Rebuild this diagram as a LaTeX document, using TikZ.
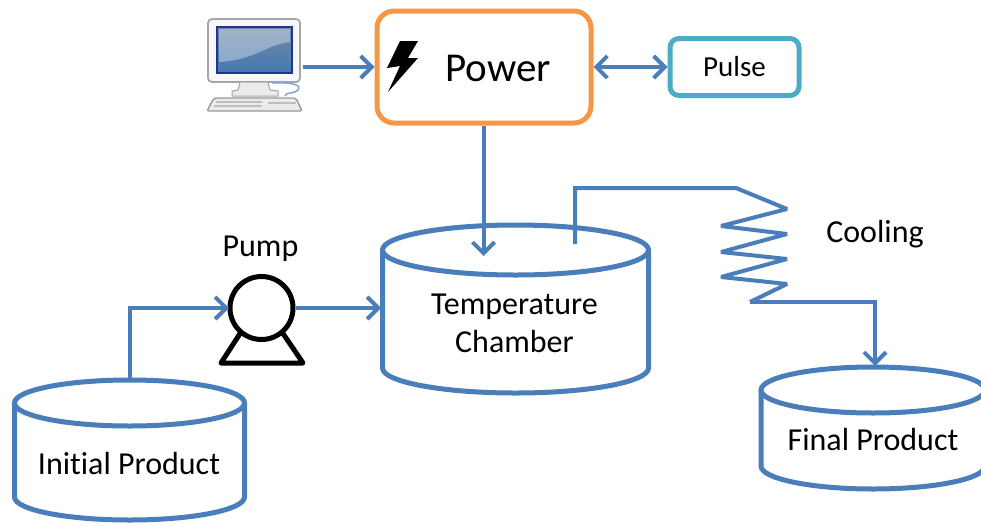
\documentclass[tikz,border=0pt]{standalone}
\usepackage{fontspec}
\setmainfont[Ligatures=NoCommon]{Carlito}
\usetikzlibrary{arrows.meta}
\definecolor{flow}{HTML}{4A7EBB}
\definecolor{orangeb}{HTML}{F79646}
\definecolor{tealb}{HTML}{4BACC6}
\tikzset{
  x=1pt,y=-1pt,
  flowline/.style={draw=flow,line width=4pt,line join=miter},
  arrowed/.style={flowline,-{Straight Barb[length=11pt,width=22pt,line width=4pt]}},
  both/.style={flowline,{Straight Barb[length=11pt,width=22pt,line width=4pt]}-{Straight Barb[length=11pt,width=22pt,line width=4pt]}},
  cyl/.style={draw=flow,line width=5pt,fill=white},
  lab/.style={text=black,inner sep=0pt,font=\fontsize{32}{38}\selectfont,align=center},
  pumpline/.style={draw=black,line width=5pt,line join=round}
}
\newcommand{\cylinder}[5]{% cx, rx, ytop, ybot, ry
  \path[cyl] (#1-#2,#3) -- (#1-#2,#4) arc[start angle=180,end angle=0,x radius=#2,y radius=#5] -- (#1+#2,#3);
  \path[cyl] (#1,#3) ellipse[x radius=#2,y radius=#5];
}
\begin{document}
\begin{tikzpicture}
\useasboundingbox (0,0) rectangle (981,525);
% cylinders
\cylinder{515.5}{133}{250}{368}{25}
\cylinder{129.5}{115}{403}{497}{23}
\cylinder{873}{112}{390}{466}{23}
% power
\node[draw=orangeb,line width=5pt,rounded corners=17pt,minimum width=214pt,minimum height=112pt,inner sep=0pt] (power) at (484,67) {};
\node[lab,font=\fontsize{41}{46}\selectfont] (powertext) at (498,68) {Power};
\node[draw=tealb,line width=5pt,rounded corners=9pt,minimum width=129pt,minimum height=57pt,inner sep=0pt,font=\fontsize{29}{34}\selectfont] (pulse) at (734.5,67) {Pulse};
% lightning
\fill[black] (400,41) -- (418,41) -- (408,58) -- (418,58) -- (388,92) -- (400,66) -- (387,68) -- cycle;
% computer
\node[minimum width=96pt,minimum height=92pt,inner sep=0pt] (pc) at (255,65) {};
\fill[black!3,draw=black!35,line width=1.8pt,rounded corners=4pt] (208,19) rectangle (300,82);
\shade[top color=flow!70!black!70,bottom color=flow!95!black,draw=flow!60!blue!70!black,line width=1.5pt] (217,27) rectangle (292,73);
\fill[white,opacity=.35] (219,29) -- (290,29) -- (290,42) .. controls (265,45) and (255,60) .. (219,62) -- cycle;
\fill[black!8,draw=black!35,line width=1pt] (240,82) -- (268,82) -- (270,90) -- (278,91) -- (278,96) -- (232,96) -- (232,91) -- (238,90) -- cycle;
\draw[flow!70,line width=1.5pt] (272,83) .. controls (292,82) and (302,85) .. (298,90) .. controls (295,94) and (285,92) .. (285,96);
\fill[black!8,draw=black!40,line width=1.4pt,rounded corners=2pt] (214,98) -- (296,98) -- (302,111) -- (207,111) -- cycle;
\draw[black!25,line width=1.4pt] (216,102) -- (262,102) (214,106) -- (262,106);
\draw[black!25,line width=1.4pt] (268,103) -- (296,103);
% pump
\node[circle,draw=black,line width=5pt,minimum size=63pt,inner sep=0pt] (pump) at (261.5,308) {};
\coordinate (pumpbl) at (221,363);
\coordinate (pumpbr) at (303,363);
\draw[pumpline] (241,332) -- (pumpbl) -- (pumpbr) -- (282,332);
% labels
\node[lab] (tc) at (514.5,323.5) {Temperature\\[-0.5pt]Chamber};
\node[lab] (ip) at (129,463) {Initial Product};
\node[lab] (fp) at (873,439) {Final Product};
\node[lab] (pumpl) at (260.5,249) {Pump};
\node[lab] (cool) at (875,234) {Cooling};
% connectors
\coordinate (pcout) at (303,67);
\coordinate (tcin) at (381,308);
\coordinate (tctop) at (483.5,256);
\coordinate (tcout) at (575,244);
\coordinate (ipout) at (130,380);
\coordinate (pumpin) at (229,308);
\coordinate (fpin) at (875,366);
\draw[arrowed] (pcout) -- (power.west);
\draw[both] (power.east) -- (pulse.west);
\draw[arrowed] (power.south -| tctop) -- (tctop);
\draw[arrowed] (ipout) -- (130,308) -- (pumpin);
\draw[arrowed] (pump.east) -- (tcin);
\draw[flowline,miter limit=3] (tcout) -- (575,188) -- (736,188) -- (787,209) -- (721,226) -- (787,234) -- (721,252) -- (787,259) -- (721,277) -- (787,284) -- (750,302);
\draw[arrowed] (750,302) -- (875,302) -- (fpin);
\end{tikzpicture}
\end{document}
